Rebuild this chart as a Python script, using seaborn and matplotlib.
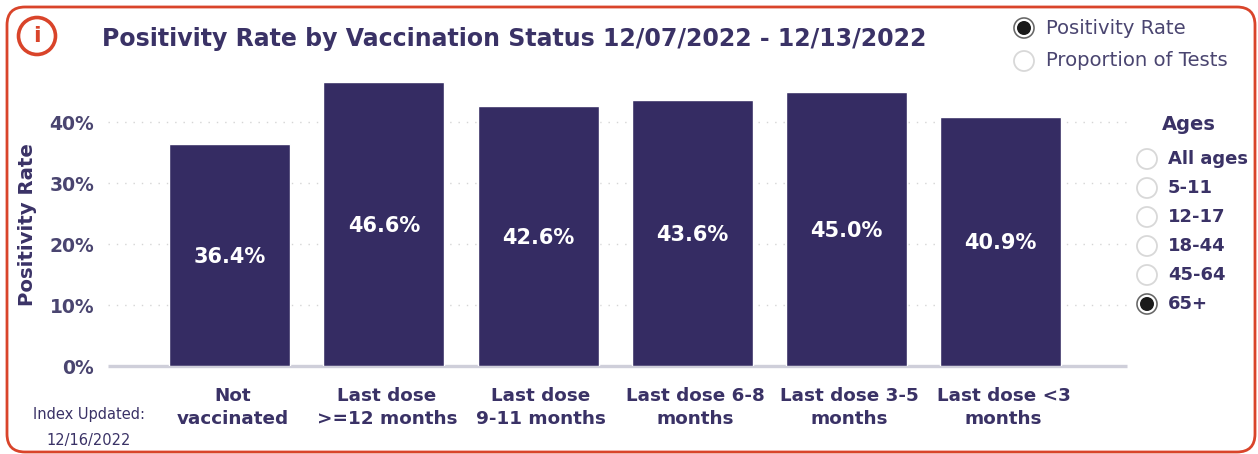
import pandas as pd
import seaborn as sns
import matplotlib
matplotlib.use("Agg")
import matplotlib.pyplot as plt
from matplotlib.patches import FancyBboxPatch, Circle
from matplotlib.transforms import ScaledTranslation

# chart values
categories = ["Not\nvaccinated", "Last dose\n>=12 months", "Last dose\n9-11 months",
              "Last dose 6-8\nmonths", "Last dose 3-5\nmonths", "Last dose <3\nmonths"]
positivity = [36.4, 46.6, 42.6, 43.6, 45.0, 40.9]
y_ticks = [0, 10, 20, 30, 40]
age_groups = ["All ages", "5-11", "12-17", "18-44", "45-64", "65+"]
selected_age = "65+"
measures = ["Positivity Rate", "Proportion of Tests"]
selected_measure = "Positivity Rate"

W, H = 1258, 454
NAVY = "#352C63"
RED = "#D9442A"
TEXT = "#3A3266"

sns.set_theme(style="white")
plt.rcParams['font.family'] = ['DejaVu Sans']

fig = plt.figure(figsize=(W / 100, H / 100), dpi=100, facecolor="white")

# overlay in pixel coords for the frame, radios and loose text
bg = fig.add_axes([0, 0, 1, 1], zorder=0)
bg.set_xlim(0, W)
bg.set_ylim(H, 0)
bg.axis("off")
bg.add_patch(FancyBboxPatch((7, 7), 1248, 445, boxstyle="round,pad=0,rounding_size=18",
                            fc="white", ec=RED, lw=2.0))

ax = fig.add_axes([108 / W, 1 - 366 / H, (1127 - 108) / W, (366 - 75) / H], zorder=1)
ax.patch.set_alpha(0)

df = pd.DataFrame({"status": categories, "rate": positivity})
sns.barplot(data=df, x="status", y="rate", color=NAVY, saturation=1, width=0.785, ax=ax, zorder=3)

ax.set_xlim(-0.79, 5.82)
ax.set_ylim(0, 47.75)
ax.set_yticks(y_ticks)
ax.set_yticklabels([f"{t}%" for t in y_ticks], fontsize=13.5, fontweight="bold", color="#4A4570")
ax.set_xlabel("")
ax.set_ylabel("Positivity Rate", fontsize=14.2, fontweight="bold", color=TEXT)
ax.yaxis.set_label_coords(-0.0695, 0.485)
ax.tick_params(axis="x", length=0, pad=15)
ax.tick_params(axis="y", length=0, pad=10)

# reference labels sit about 3px right of the bar centres
nudge = ScaledTranslation(3 / 100, 0, fig.dpi_scale_trans)
for lab in ax.get_xticklabels():
    lab.set_fontsize(13.2)
    lab.set_fontweight("bold")
    lab.set_color(TEXT)
    lab.set_linespacing(1.35)
    lab.set_transform(lab.get_transform() + nudge)

for t in y_ticks[1:]:
    ax.axhline(t, color="#D5D5D5", lw=1, ls=(0, (1, 5)), zorder=1)
for s in ax.spines.values():
    s.set_visible(False)
ax.plot([0, 1], [0, 0], transform=ax.get_yaxis_transform(), color="#CFCFDA", lw=2.4,
        solid_capstyle="butt", zorder=1, clip_on=False)

for bar, v in zip(ax.patches, positivity):
    ax.annotate(f"{v:.1f}%", (bar.get_x() + bar.get_width() / 2, v / 2), xytext=(0, -1.5),
                textcoords="offset points", ha="center", va="center", color="white",
                fontsize=15, fontweight="bold", zorder=4)

# title and info icon
bg.text(514, 39, "Positivity Rate by Vaccination Status 12/07/2022 - 12/13/2022",
        ha="center", va="center", fontsize=17, fontweight="bold", color=TEXT)
bg.add_patch(Circle((37, 36), 18.5, fc="white", ec=RED, lw=2.6))
bg.text(37, 36, "i", ha="center", va="center", fontsize=16, fontweight="bold", color=RED)

# "Index Updated"
bg.text(89, 415, "Index Updated:", ha="center", va="center", fontsize=10.5, color=TEXT)
bg.text(89, 440, "12/16/2022", ha="center", va="center", fontsize=10.5, color=TEXT)


def radio(x, y, on):
    bg.add_patch(Circle((x, y), 10, fc="white", ec="#D8D8D8", lw=1.3))
    if on:
        bg.add_patch(Circle((x, y), 10, fc="white", ec="#666666", lw=1.1))
        bg.add_patch(Circle((x, y), 7, fc="#1A1A1A", ec="none"))


for i, m in enumerate(measures):
    y = 28 + i * 33
    radio(1024, y, m == selected_measure)
    bg.text(1046, y, m, ha="left", va="center", fontsize=14.1, color="#4A4570")

bg.text(1189, 124, "Ages", ha="center", va="center", fontsize=14, fontweight="bold", color=TEXT)
for i, a in enumerate(age_groups):
    y = 159 + i * 29
    radio(1147, y, a == selected_age)
    bg.text(1168, y, a, ha="left", va="center", fontsize=13, fontweight="bold", color=TEXT)

fig.savefig("out.png", dpi=100)
